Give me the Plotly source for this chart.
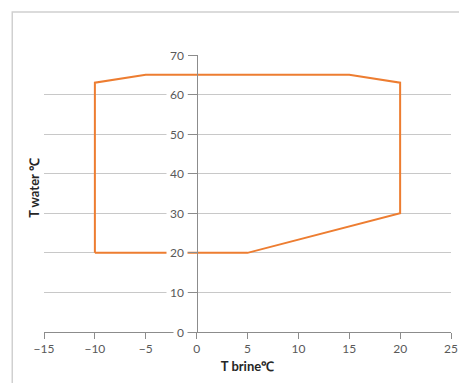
import plotly.graph_objects as go

# Operating envelope polygon
t_brine = [-10, -10, -5, 15, 20, 20, 5, -10]
t_water = [20, 63, 65, 65, 63, 30, 20, 20]

x_ticks = [-15, -10, -5, 0, 5, 10, 15, 20, 25]
y_ticks = [0, 10, 20, 30, 40, 50, 60, 70]

axis_grey = "#8c8c8c"
grid_grey = "#c8c8c8"
label_grey = "#595959"
font_family = "Lato, 'Open Sans', sans-serif"

fig = go.Figure()
fig.add_trace(go.Scatter(
    x=t_brine, y=t_water, mode="lines",
    line=dict(color="#ED7D31", width=2),
    hoverinfo="skip", showlegend=False,
))

annotations = []
for v in y_ticks:
    annotations.append(dict(
        x=0, y=v, xref="x", yref="y", text=str(v), showarrow=False,
        xanchor="right", yanchor="middle", xshift=-9,
        bgcolor="white", borderpad=3,
        font=dict(family=font_family, size=12, color=label_grey),
    ))

fig.update_layout(
    width=459, height=383,
    margin=dict(l=44, r=8, t=55, b=51),
    paper_bgcolor="white", plot_bgcolor="white",
    showlegend=False,
    font=dict(family=font_family, size=12, color=label_grey),
    xaxis=dict(
        range=[-15, 25], tickvals=x_ticks, showgrid=False, zeroline=False,
        showline=True, linecolor=axis_grey, linewidth=1,
        ticks="outside", ticklen=6, tickcolor=axis_grey,
        tickfont=dict(family=font_family, size=12, color=label_grey),
        title=dict(text="<b>T brine℃</b>", standoff=6,
                   font=dict(family=font_family, size=13, color="#262626")),
        fixedrange=True, automargin=False,
    ),
    yaxis=dict(
        range=[0, 70], tickvals=y_ticks, showgrid=True, gridcolor=grid_grey,
        gridwidth=1, zeroline=False, anchor="free", position=0.375,
        showline=True, linecolor=axis_grey, linewidth=1,
        ticks="outside", ticklen=9, tickcolor=axis_grey,
        showticklabels=False, fixedrange=True, automargin=False,
    ),
    annotations=annotations + [
        dict(x=-0.025, y=0.52, xref="paper", yref="paper", text="<b>T water ℃</b>",
             textangle=-90, showarrow=False, xanchor="center", yanchor="middle",
             font=dict(family=font_family, size=13, color="#262626")),
    ],
    shapes=[
        dict(type="rect", xref="paper", yref="paper", x0=-0.078, x1=1.1,
             y0=-0.35, y1=1.155, line=dict(color="#d0d0d0", width=1.5),
             fillcolor="rgba(0,0,0,0)", layer="below"),
    ],
)

fig.write_html(
    "out.html",
    config={"displayModeBar": False, "staticPlot": True},
    post_script="document.body.style.margin='0';document.body.style.overflow='hidden';",
)
